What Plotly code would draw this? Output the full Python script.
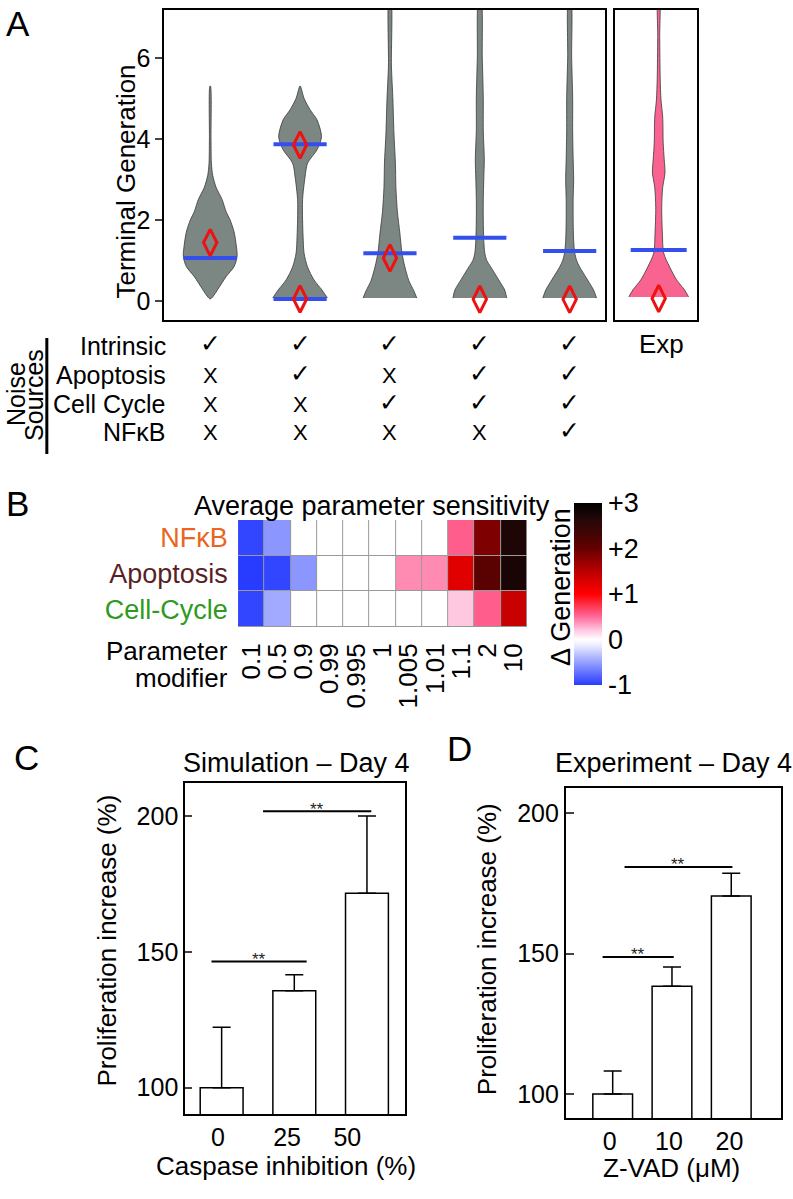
import plotly.graph_objects as go

W, H = 793, 1199
FONT = "Liberation Sans, Arial, Helvetica, sans-serif"
SYM = "DejaVu Sans, Liberation Sans, sans-serif"


def px(x):
    return x / W


def py(y):
    return 1 - y / H


# ---------------- Panel A data ----------------
sim_positions = [0, 1, 2, 3, 4]
v1_gen = [0.05, 0.15, 0.3, 0.6, 0.85, 1.1, 1.4, 1.7, 2.0, 2.2, 2.5, 2.8, 3.1, 3.4, 4.0, 5.3]
v1_den = [0, 4, 8, 16, 24, 27, 26, 24, 20, 16, 12, 6, 2.5, 1.2, 0.8, 0.3]
v2_gen = [0.07, 0.27, 0.52, 0.84, 1.18, 1.6, 2.0, 2.5, 3.06, 3.4, 3.73, 4.05, 4.47, 4.72, 5.0, 5.3]
v2_den = [27.5, 22, 14, 7.5, 4, 3, 2.5, 2.5, 5, 7.5, 17, 21.5, 17, 10, 4, 0.3]
v3_gen = [0.07, 0.25, 0.5, 0.84, 1.2, 1.67, 2.2, 2.8, 3.4, 4.15, 4.96, 5.8, 7.5]
v3_den = [27, 24, 19, 15, 12, 10, 7.5, 6, 5.5, 4, 3, 1.5, 0.8]
v4_gen = [0.07, 0.27, 0.52, 0.84, 1.0, 1.18, 1.5, 2.0, 2.5, 3.0, 3.5, 4.2, 5.0, 6.0, 7.5]
v4_den = [27, 25, 19, 11, 7, 5, 4, 3.5, 3.5, 4, 4.5, 3.5, 3.5, 2.5, 1]
v5_gen = [0.07, 0.27, 0.52, 0.84, 1.0, 1.2, 1.5, 2.0, 2.5, 3.0, 3.5, 4.2, 5.0, 6.0, 7.5]
v5_den = [27, 24, 18, 10, 7, 5, 4, 3.5, 3.5, 4, 3.5, 3, 3, 2, 1]
exp_gen = [0.1, 0.27, 0.52, 0.84, 1.18, 1.67, 2.3, 2.8, 3.16, 3.5, 3.9, 4.54, 4.96, 5.5, 6.5, 7.5]
exp_den = [30, 26, 18, 11, 5, 3.7, 3, 4, 6.3, 5.5, 4.5, 4, 2.3, 1.5, 1, 0.7]

sim_means = [[1.06], [3.87, 0.05], [1.18], [1.56], [1.23]]
sim_medians = [[1.44], [3.85, 0.05], [1.06], [0.04], [0.04]]
exp_mean = 1.26
exp_median = 0.06

noise_sources = ["Intrinsic", "Apoptosis", "Cell Cycle", "NFκB"]
noise_on = [[1, 1, 1, 1, 1],
            [0, 1, 0, 1, 1],
            [0, 0, 1, 1, 1],
            [0, 0, 0, 0, 1]]

# ---------------- Panel B data ----------------
modifiers = ["0.1", "0.5", "0.9", "0.99", "0.995", "1", "1.005", "1.01", "1.1", "2", "10"]
modules = ["NFκB", "Apoptosis", "Cell-Cycle"]
module_colors = ["#E8661E", "#5A1F26", "#2E9A1E"]
sens_nfkb = [-0.95, -0.55, 0, 0, 0, 0, 0, 0, 0.55, 1.85, 2.7]
sens_apop = [-1.0, -0.95, -0.55, 0, 0, 0, 0.4, 0.4, 1.22, 2.1, 2.75]
sens_cc = [-0.95, -0.45, 0, 0, 0, 0, 0, 0, 0.2, 0.55, 1.4]
cbar_vals = [-1, 0, 1, 2, 3]
cbar_text = ["-1", "0", "+1", "+2", "+3"]

# ---------------- Panel C / D data ----------------
sim_caspase = ["0", "25", "50"]
sim_prolif = [100, 135.7, 171.7]
sim_err = [22.3, 5.9, 28.4]
sim_sig = [(-0.14, 1.17, 146.5), (0.57, 2.06, 201.9)]

exp_zvad = ["0", "10", "20"]
exp_prolif = [100, 138.4, 170.5]
exp_err = [8.2, 6.8, 8.1]
exp_sig = [(-0.17, 1.03, 148.8), (0.2, 2.02, 180.8)]

# ---------------- Figure ----------------
fig = go.Figure()
WSCALE = 1 / 90.25  # density units -> category units
GRAY = "#7c8683"
PINK = "#F8648F"


def violin_trace(center, gen, den, color, xa, ya):
    xs = [center - d * WSCALE for d in den] + [center + d * WSCALE for d in reversed(den)]
    ys = list(gen) + list(reversed(gen))
    return go.Scatter(x=xs, y=ys, mode="lines", fill="toself", fillcolor=color,
                      line=dict(color="#3a3a3a", width=0.8, shape="spline", smoothing=0.8),
                      xaxis=xa, yaxis=ya, hoverinfo="skip")


sim_profiles = [(v1_gen, v1_den), (v2_gen, v2_den), (v3_gen, v3_den),
                (v4_gen, v4_den), (v5_gen, v5_den)]
for pos, (g, d) in zip(sim_positions, sim_profiles):
    fig.add_trace(violin_trace(pos, g, d, GRAY, "x", "y"))
fig.add_trace(violin_trace(0, exp_gen, exp_den, PINK, "x2", "y2"))

BLUE = "#3350EE"
RED = "#EE1111"
mx, my = [], []
for pos, vals in zip(sim_positions, sim_means):
    for v in vals:
        mx.append(pos)
        my.append(v)
fig.add_trace(go.Scatter(x=mx, y=my, mode="markers", xaxis="x", yaxis="y",
                         marker=dict(symbol="line-ew", size=38, line=dict(color=BLUE, width=4))))
dx, dy = [], []
for pos, vals in zip(sim_positions, sim_medians):
    for v in vals:
        dx.append(pos)
        dy.append(v)
fig.add_trace(go.Scatter(x=dx, y=dy, mode="markers", xaxis="x", yaxis="y", cliponaxis=False,
                         marker=dict(symbol="diamond-tall-open", size=19, color=RED,
                                     line=dict(color=RED, width=3))))
fig.add_trace(go.Scatter(x=[0], y=[exp_mean], mode="markers", xaxis="x2", yaxis="y2",
                         marker=dict(symbol="line-ew", size=40, line=dict(color=BLUE, width=4))))
fig.add_trace(go.Scatter(x=[0], y=[exp_median], mode="markers", xaxis="x2", yaxis="y2", cliponaxis=False,
                         marker=dict(symbol="diamond-tall-open", size=19, color=RED,
                                     line=dict(color=RED, width=3))))

# Heatmap
colorscale = [[0.0, "rgb(40,60,255)"], [0.125, "rgb(150,160,255)"], [0.22, "rgb(238,238,255)"],
              [0.25, "rgb(255,255,255)"], [0.3, "rgb(255,200,225)"], [0.38, "rgb(255,100,150)"],
              [0.5, "rgb(255,0,0)"], [0.62, "rgb(190,0,0)"], [0.75, "rgb(100,0,0)"],
              [0.9, "rgb(40,8,8)"], [1.0, "rgb(0,0,0)"]]
fig.add_trace(go.Heatmap(
    z=[sens_nfkb, sens_apop, sens_cc], x=list(range(len(modifiers))), y=list(range(len(modules))),
    xaxis="x3", yaxis="y3", zmin=-1, zmax=3, colorscale=colorscale, xgap=1, ygap=1,
    colorbar=dict(x=px(574), xanchor="left", y=py(594), yanchor="middle", thickness=28,
                  len=182, lenmode="pixels", xpad=0, ypad=0, outlinewidth=0,
                  tickvals=cbar_vals, ticktext=cbar_text, ticks="",
                  tickfont=dict(size=27, family=FONT, color="black"))))

# Bars C
fig.add_trace(go.Bar(x=[0, 1, 2], y=sim_prolif, xaxis="x4", yaxis="y4", width=0.59,
                     marker=dict(color="white", line=dict(color="black", width=1.5)),
                     error_y=dict(type="data", symmetric=False, array=sim_err, arrayminus=[0, 0, 0],
                                  color="black", thickness=1.5, width=9)))
# Bars D
fig.add_trace(go.Bar(x=[0, 1, 2], y=exp_prolif, xaxis="x5", yaxis="y5", width=0.67,
                     marker=dict(color="white", line=dict(color="black", width=1.5)),
                     error_y=dict(type="data", symmetric=False, array=exp_err, arrayminus=[0, 0, 0],
                                  color="black", thickness=1.5, width=9)))

shapes = []
annotations = []

# significance lines
for (x0, x1, yv), xr, yr in [(s, "x4", "y4") for s in sim_sig] + [(s, "x5", "y5") for s in exp_sig]:
    shapes.append(dict(type="line", xref=xr, yref=yr, x0=x0, x1=x1, y0=yv, y1=yv,
                       line=dict(color="black", width=2)))
    annotations.append(dict(xref=xr, yref=yr, x=(x0 + x1) / 2, y=yv, text="**", showarrow=False,
                            xanchor="center", yanchor="middle", yshift=2,
                            font=dict(size=17, family=FONT, color="#222")))

# heatmap background for grid lines
shapes.append(dict(type="rect", xref="x3 domain", yref="y3 domain", x0=0, x1=1, y0=0, y1=1,
                   fillcolor="#9a9a9a", line=dict(width=0), layer="below"))
# noise sources bracket line
shapes.append(dict(type="line", xref="paper", yref="paper", x0=px(45), x1=px(45), y0=py(338), y1=py(454),
                   line=dict(color="black", width=3)))


def ann(x, y, text, size, **kw):
    d = dict(xref="paper", yref="paper", x=px(x), y=py(y), text=text, showarrow=False,
             xanchor="center", yanchor="middle",
             font=dict(size=size, family=FONT, color=kw.pop("color", "black")))
    d.update(kw)
    annotations.append(d)


# panel letters
ann(16, 24, "A", 35)
ann(16, 504, "B", 35)
ann(25, 757, "C", 35)
ann(459, 748, "D", 35)

# Panel A texts
ann(124, 182, "Terminal Generation", 26, textangle=-90)
ann(662, 344, "Exp", 26)
ann(14, 394, "Noise", 25, textangle=-90)
ann(32, 395, "Sources", 25, textangle=-90)
row_y = [346, 375, 404, 432]
for r, (name, ry) in enumerate(zip(noise_sources, row_y)):
    ann(167, ry, name, 25, xanchor="right")
    for c, on in enumerate(noise_on[r]):
        annotations.append(dict(
            xref="x", yref="paper", x=sim_positions[c], y=py(ry), showarrow=False,
            xanchor="center", yanchor="middle",
            text="<b>✓</b>" if on else "X", yshift=2 if on else 0,
            font=dict(size=25 if on else 22, family=SYM if on else FONT, color="black")))

# Panel B texts
ann(371, 506, "Average parameter sensitivity", 27)
ann(229, 651, "Parameter", 26, xanchor="right")
ann(229, 678, "modifier", 26, xanchor="right")
ann(561, 587, "Δ Generation", 27, textangle=-90)

# Panel C texts
ann(296, 763, "Simulation – Day 4", 27)
ann(105, 941, "Proliferation increase (%)", 26, textangle=-90)
ann(285, 1166, "Caspase inhibition (%)", 26)
# Panel D texts
ann(674, 763, "Experiment – Day 4", 27)
ann(487, 949, "Proliferation increase (%)", 26, textangle=-90)
ann(672, 1168, "Z-VAD (μM)", 26)

box = dict(showline=True, mirror=True, linecolor="black", linewidth=2, showgrid=False, zeroline=False)
tickf = dict(size=25, family=FONT, color="black")

fig.update_layout(
    width=W, height=H, margin=dict(l=0, r=0, t=0, b=0), showlegend=False,
    paper_bgcolor="white", plot_bgcolor="white",
    font=dict(family=FONT, color="black"),
    xaxis=dict(domain=[px(163), px(605)], range=[-0.51, 4.39], showticklabels=False, ticks="", **box),
    yaxis=dict(domain=[py(320), py(10)], range=[-0.47, 7.18], tickvals=[0, 2, 4, 6], ticks="outside",
               ticklen=7, tickwidth=2, tickfont=tickf, **box),
    xaxis2=dict(domain=[px(615), px(698)], range=[-0.49, 0.43], showticklabels=False, ticks="", **box),
    yaxis2=dict(domain=[py(320), py(10)], range=[-0.47, 7.18], showticklabels=False, ticks="",
                anchor="x2", **box),
    xaxis3=dict(domain=[px(237), px(527)], range=[-0.5, 10.5], tickvals=list(range(len(modifiers))),
                ticktext=modifiers, tickangle=-90, ticks="outside", ticklen=5, tickcolor="rgba(0,0,0,0)",
                tickfont=dict(size=26, family=FONT, color="black"), showgrid=False, zeroline=False,
                anchor="y3"),
    yaxis3=dict(domain=[py(627), py(520)], range=[2.5, -0.5], tickvals=list(range(len(modules))),
                ticktext=[f'<span style="color:{c}">{m}</span>' for m, c in zip(modules, module_colors)],
                ticks="outside", ticklen=4, tickcolor="rgba(0,0,0,0)",
                tickfont=dict(size=27, family=FONT), showgrid=False, zeroline=False, anchor="x3"),
    xaxis4=dict(domain=[px(184), px(405)], range=[-0.5, 2.53], tickvals=[-0.05, 0.9, 1.73],
                ticktext=sim_caspase, ticks="", tickfont=tickf, anchor="y4", **box),
    yaxis4=dict(domain=[py(1114), py(783)], range=[90.3, 212.3], tickvals=[100, 150, 200], ticks="inside",
                ticklen=7, tickwidth=2, tickfont=tickf, anchor="x4", **box),
    xaxis5=dict(domain=[px(566), px(782)], range=[-0.79, 2.84], tickvals=[-0.05, 0.95, 1.97],
                ticktext=exp_zvad, ticks="", tickfont=tickf, anchor="y5", **box),
    yaxis5=dict(domain=[py(1118), py(788)], range=[91.5, 208.9], tickvals=[100, 150, 200], ticks="inside",
                ticklen=8, tickwidth=2, tickfont=tickf, anchor="x5", **box),
    shapes=shapes, annotations=annotations,
)

# Remove the browser's default 8px body margin so the figure sits at the page origin.
fig.write_html("out.html", config={"displayModeBar": False},
               post_script="document.body.style.margin='0';document.body.style.overflow='hidden';")
